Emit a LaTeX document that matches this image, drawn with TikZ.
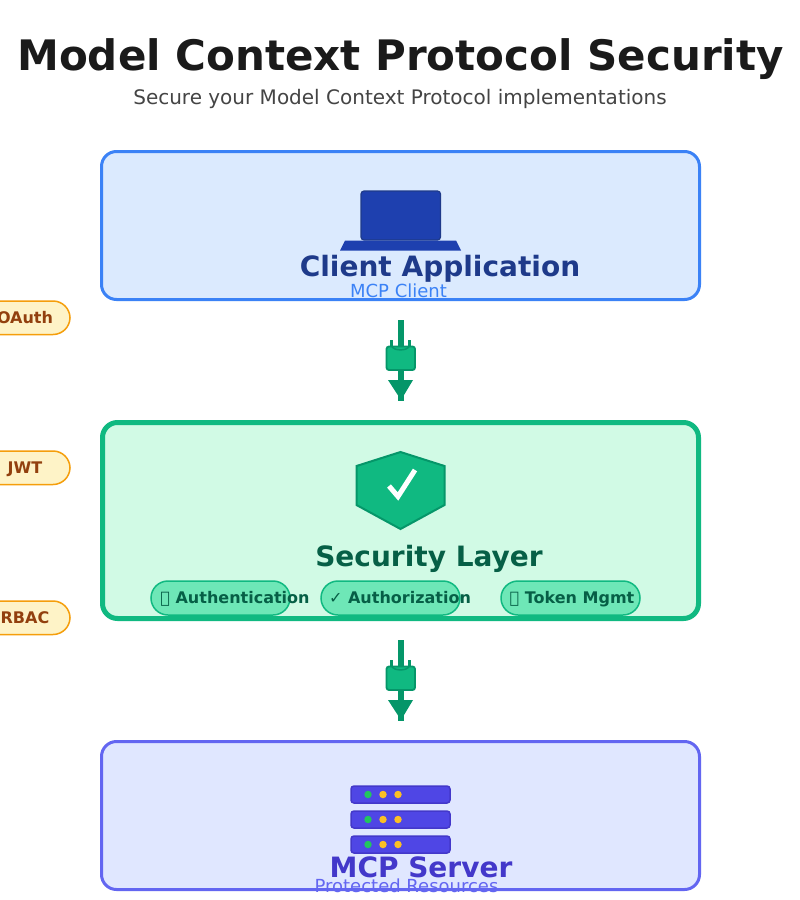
\documentclass[tikz,border=0pt]{standalone}
\usepackage{fontspec}
\setmainfont{DejaVu Sans}
\usetikzlibrary{calc}
\definecolor{ink}{HTML}{1A1A1A}
\definecolor{subink}{HTML}{444444}
\definecolor{blueS}{HTML}{3B82F6}
\definecolor{blueF}{HTML}{DBEAFE}
\definecolor{blueD}{HTML}{1E40AF}
\definecolor{blueE}{HTML}{1E3A8A}
\definecolor{greenS}{HTML}{10B981}
\definecolor{greenF}{HTML}{D1FAE5}
\definecolor{greenD}{HTML}{059669}
\definecolor{greenT}{HTML}{065F46}
\definecolor{greenP}{HTML}{6EE7B7}
\definecolor{indS}{HTML}{6366F1}
\definecolor{indF}{HTML}{E0E7FF}
\definecolor{indD}{HTML}{4F46E5}
\definecolor{indE}{HTML}{4338CA}
\definecolor{amberS}{HTML}{F59E0B}
\definecolor{amberF}{HTML}{FEF3C7}
\definecolor{amberT}{HTML}{92400E}
\definecolor{amberL}{HTML}{FBBF24}
\definecolor{ledG}{HTML}{22C55E}
\newcommand{\fpx}[1]{\fontsize{#1}{#1}\selectfont}
\tikzset{
  x=1pt,y=-1pt,
  label text/.style={inner sep=0pt,anchor=base},
  layerbox/.style={rounded corners=15pt,line width=#1},
  tagpill/.style={rounded corners=17pt,draw=amberS,fill=amberF,line width=1.5pt},
  featpill/.style={rounded corners=17pt,draw=greenS,fill=greenP,line width=1.5pt},
  flow/.style={draw=greenD,line width=6pt},
  plugbody/.style={draw=greenD,fill=greenS,line width=1.8pt,rounded corners=2.5pt},
  rackunit/.style={draw=indE,fill=indD,line width=1.5pt,rounded corners=3pt},
  led/.style={circle,inner sep=0pt,minimum size=7.5pt},
}
\begin{document}
\begin{tikzpicture}
\useasboundingbox (0,0) rectangle (800,900);
\fill[white] (0,0) rectangle (800,900);
\node[label text,text=ink] (title) at (400.5,70) {\fpx{42}\bfseries Model Context Protocol Security};
\node[label text,text=subink] (subtitle) at (400,104) {\fpx{20}Secure your Model Context Protocol implementations};

% layers
\draw[layerbox=3pt,draw=blueS,fill=blueF] (101.5,151.5) rectangle (699.5,299.5);
\draw[layerbox=5pt,draw=greenS,fill=greenF] (102.5,422.5) rectangle (698.5,618.5);
\draw[layerbox=3pt,draw=indS,fill=indF] (101.5,741.5) rectangle (699.5,889.5);

% laptop
\draw[draw=blueE,fill=blueD,line width=1.2pt,rounded corners=3pt] (361,191) rectangle (440.5,240);
\fill[blueD] (340,250.5) -- (345,240.5) -- (456,240.5) -- (461,250.5) -- cycle;
\node[label text,text=blueE] (clientname) at (440,276) {\fpx{28}\bfseries Client Application};
\node[label text,text=blueS] (clientsub) at (398.5,297) {\fpx{18}MCP Client};

% shield
\draw[draw=greenD,fill=greenS,line width=2pt,line join=miter] (400.5,452) -- (444.5,466) -- (444.5,505) -- (400.5,529) -- (356.5,505) -- (356.5,466) -- cycle;
\draw[white,line width=5pt] (389,486) -- (398,496.5) -- (415,470);
\node[label text,text=greenT] (secname) at (429,566) {\fpx{28}\bfseries Security Layer};

% feature pills
\draw[featpill] (151,581) rectangle (290,615);
\draw[featpill] (321,581) rectangle (460,615);
\draw[featpill] (501,581) rectangle (640,615);
\node[label text,text=greenT] (fauthn) at (235,603) {\fpx{16}\bfseries 🔐 Authentication};
\node[label text,text=greenT] (fauthz) at (400,603) {\fpx{16}\bfseries ✓ Authorization};
\node[label text,text=greenT] (ftoken) at (572,603) {\fpx{16}\bfseries 🔑 Token Mgmt};

% side tags
\draw[tagpill] (-30,301) rectangle (70,334.5);
\draw[tagpill] (-30,451) rectangle (70,484.5);
\draw[tagpill] (-30,601) rectangle (70,634.5);
\node[label text,text=amberT] (oauth) at (25,323) {\fpx{16}\bfseries OAuth};
\node[label text,text=amberT] (jwt) at (25,473) {\fpx{16}\bfseries JWT};
\node[label text,text=amberT] (rbac) at (25,623) {\fpx{16}\bfseries RBAC};

% connectors
\foreach \dy/\nm in {0/a,320/b}{
  \coordinate (from\nm) at (401,320+\dy);
  \coordinate (to\nm) at (401,401+\dy);
  \draw[flow] (from\nm) -- (to\nm);
  \fill[greenD] (388,380+\dy) -- (413,380+\dy) -- (401,400+\dy) -- cycle;
  \draw[greenD,line width=2.5pt] (391.5,340+\dy) -- (391.5,347+\dy);
  \draw[greenD,line width=2.5pt] (409.5,340+\dy) -- (409.5,347+\dy);
  \draw[plugbody] (386.5,346.5+\dy) rectangle (415,370+\dy);
  \draw[greenD,line width=1.5pt] (392,346.5+\dy) .. controls (394,351+\dy) and (407,351+\dy) .. (409,346.5+\dy);
}

% server
\foreach \r in {0,25,50}{
  \draw[rackunit] (351,786+\r) rectangle (450,803+\r);
  \node[led,fill=ledG] (ledg\r) at (368,794.5+\r) {};
  \node[led,fill=amberL] (leda\r) at (383,794.5+\r) {};
  \node[led,fill=amberL] (ledb\r) at (398,794.5+\r) {};
}
\node[label text,text=indE] (srvname) at (421,877) {\fpx{28}\bfseries MCP Server};
\node[label text,text=indS] (srvsub) at (406.5,892) {\fpx{18}Protected Resources};
\end{tikzpicture}
\end{document}
